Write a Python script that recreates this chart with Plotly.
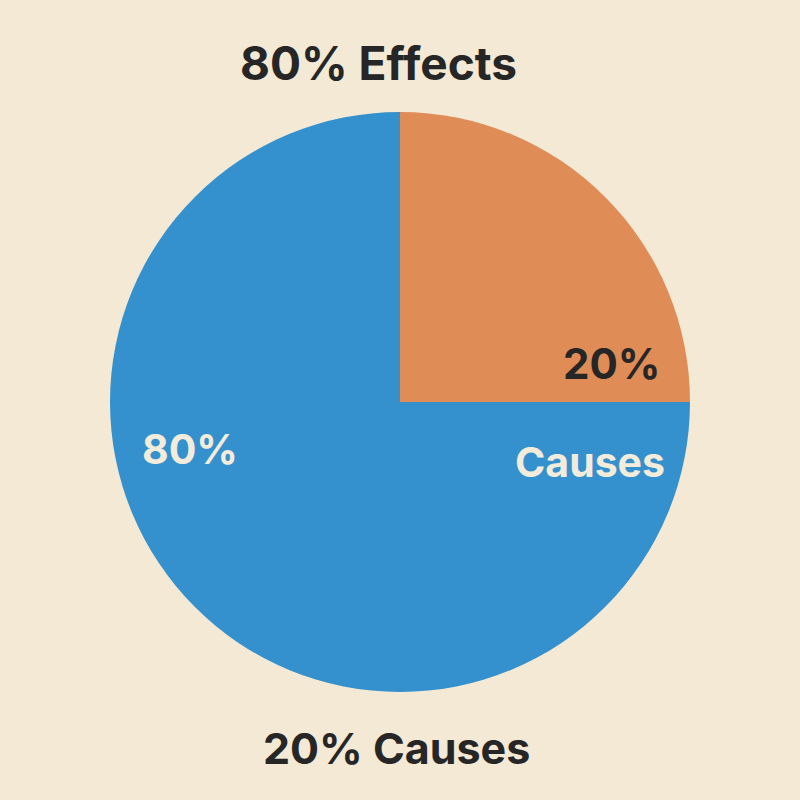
import plotly.graph_objects as go

# Data
slice_names = ["Causes (top)", "Rest"]
slice_values = [25, 75]          # geometry of the drawn slices (orange quadrant)
slice_labels = ["20%", "80%"]    # text printed on the chart
slice_colors = ["#E08C57", "#3491CE"]
title_top = "80% Effects"
title_bottom = "20% Causes"
inner_word = "Causes"

bg = "#F3E9D5"
dark = "#262626"
light = "#F4ECDA"
font_family = "Inter, 'Open Sans', Roboto, sans-serif"

fig = go.Figure(go.Pie(
    labels=slice_names,
    values=slice_values,
    marker=dict(colors=slice_colors, line=dict(width=0)),
    sort=False,
    direction="clockwise",
    rotation=0,
    textinfo="none",
    hoverinfo="skip",
    showlegend=False,
    domain=dict(x=[110/800, 690/800], y=[1-692/800, 1-112/800]),
))

annotations = [
    dict(text=title_top, x=378/800, y=1-63/800, font=dict(size=46, color=dark, family=font_family, weight=700)),
    dict(text=title_bottom, x=396/800, y=1-748/800, font=dict(size=43, color=dark, family=font_family, weight=700)),
    dict(text=slice_labels[0], x=611/800, y=1-363/800, font=dict(size=42, color=dark, family=font_family, weight=700)),
    dict(text=slice_labels[1], x=190/800, y=1-449/800, font=dict(size=41, color=light, family=font_family, weight=700)),
    dict(text=inner_word, x=590/800, y=1-462/800, font=dict(size=41, color=light, family=font_family, weight=700)),
]
for a in annotations:
    a.update(xref="paper", yref="paper", showarrow=False, xanchor="center", yanchor="middle")

fig.update_layout(
    width=800, height=800,
    margin=dict(l=0, r=0, t=0, b=0),
    paper_bgcolor=bg, plot_bgcolor=bg,
    annotations=annotations,
)

fig.write_html(
    "out.html",
    config=dict(displayModeBar=False, staticPlot=True),
    post_script="document.body.style.margin='0';document.body.style.overflow='hidden';document.body.style.background='%s';" % bg,
)
